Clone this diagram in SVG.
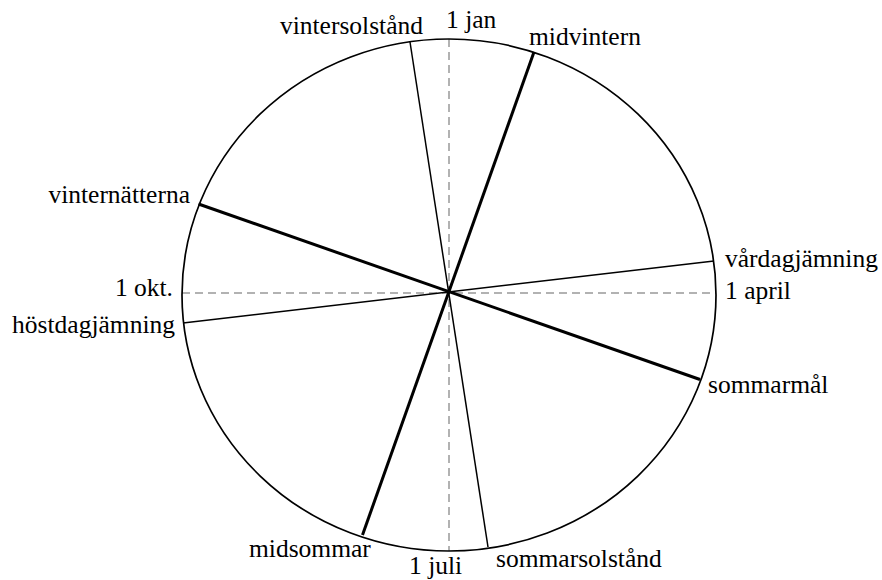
<svg xmlns="http://www.w3.org/2000/svg" width="882" height="580" viewBox="0 0 882 580">
<style>
text{font-family:"Liberation Serif","Times New Roman",serif;font-size:25.5px;fill:#000}
.e{text-anchor:end}
.thin{stroke:#000;stroke-width:1.5;fill:none}
.thick{stroke:#000;stroke-width:3;fill:none}
.dash{stroke:#999;stroke-width:1.5;stroke-dasharray:8 5;fill:none}
</style>
<rect width="882" height="580" fill="#fff"/>
<g id="axes">
<line class="dash" x1="449" y1="39" x2="449" y2="551"/>
<line class="dash" x1="182" y1="293" x2="716" y2="293"/>
</g>
<g id="circle">
<ellipse cx="449" cy="295" rx="267" ry="256" fill="none" stroke="#000" stroke-width="1.7"/>
</g>
<g id="connectors">
<line class="thin" x1="410" y1="42" x2="488" y2="547"/>
<line class="thick" x1="534" y1="52" x2="362.5" y2="535"/>
<line class="thick" x1="198.5" y1="204" x2="700" y2="379.5"/>
<line class="thin" x1="714" y1="261" x2="183" y2="323"/>
</g>
<g id="labels">
<text x="446" y="28">1 jan</text>
<text class="e" x="423" y="34">vintersolstånd</text>
<text x="529" y="45">midvintern</text>
<text class="e" x="190" y="203">vinternätterna</text>
<text class="e" x="173" y="296">1 okt.</text>
<text class="e" x="175" y="333">höstdagjämning</text>
<text x="725" y="267">vårdagjämning</text>
<text x="725" y="299">1 april</text>
<text x="708" y="393">sommarmål</text>
<text x="496" y="567">sommarsolstånd</text>
<text x="249" y="557">midsommar</text>
<text x="409" y="574">1 juli</text>
</g>
</svg>
